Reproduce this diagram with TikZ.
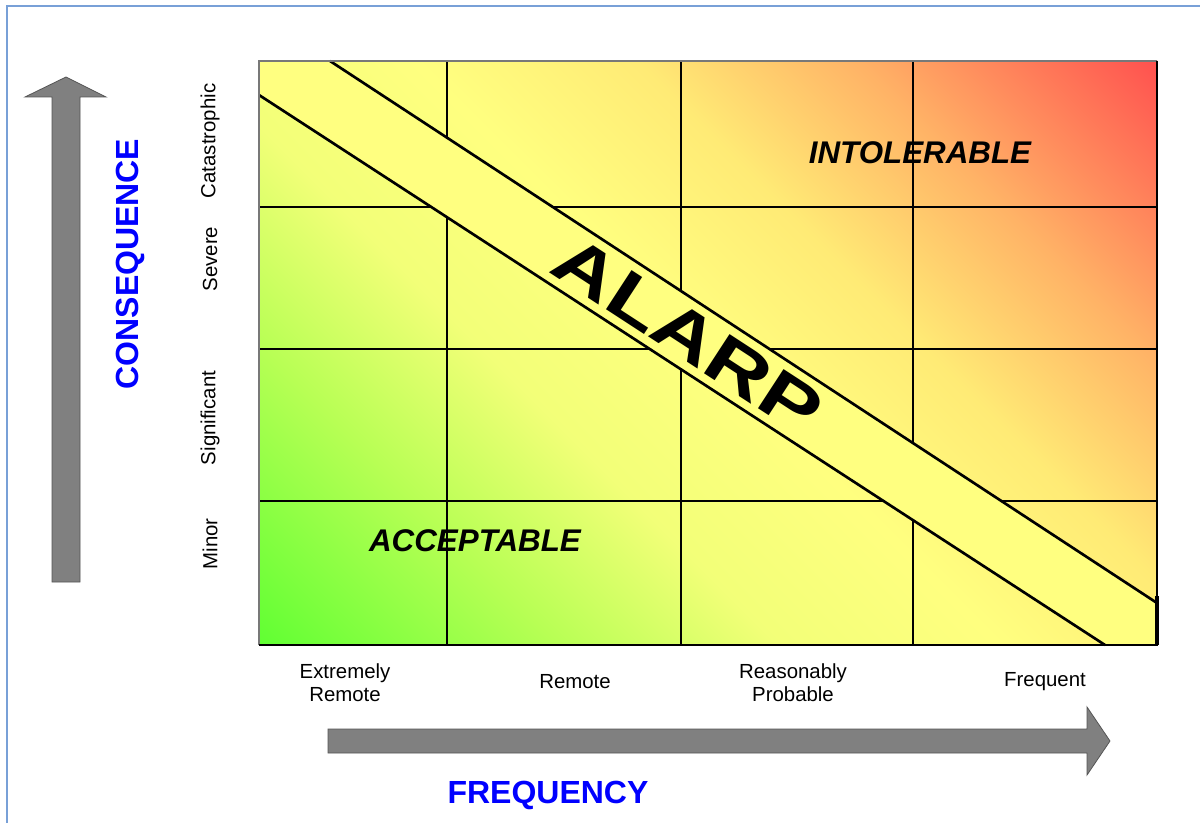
\documentclass[tikz,border=0pt]{standalone}
\usepackage{fontspec}
\setmainfont{Liberation Sans}
\pgfdeclarehorizontalshading{riskshade}{100bp}{%
rgb(0bp)=(0.33,1,0.2);
rgb(14.6bp)=(0.38,1,0.2);
rgb(28.8bp)=(0.72,1,0.33);
rgb(39.4bp)=(0.95,1,0.47);
rgb(50bp)=(1,1,0.5);
rgb(60.6bp)=(1,0.92,0.46);
rgb(71.2bp)=(1,0.7,0.4);
rgb(85.4bp)=(1,0.32,0.31);
rgb(100bp)=(1,0.32,0.31)}
\definecolor{bandyellow}{RGB}{255,255,128}
\definecolor{framelblue}{RGB}{120,160,215}
\definecolor{arrowgray}{RGB}{128,128,128}
\definecolor{arrowedge}{RGB}{85,85,85}
\definecolor{axisblue}{RGB}{0,0,255}
\definecolor{boxedge}{RGB}{120,120,120}
\begin{document}
\begin{tikzpicture}[x=0.75pt,y=-0.75pt,
  gridline/.style={line width=1.8pt, black},
  bandline/.style={line width=2pt, black},
  bigarrow/.style={fill=arrowgray, draw=arrowedge, line width=0.6pt},
  rowlab/.style={rotate=90, font=\fontsize{15.3}{17.5}\selectfont, inner sep=0pt},
  collab/.style={align=center, font=\fontsize{15.3}{17.5}\selectfont, inner sep=0pt},
  axislab/.style={font=\fontsize{24}{28}\selectfont\bfseries, text=axisblue, inner sep=0pt},
  zonelab/.style={font=\fontsize{23.5}{28}\selectfont\bfseries\itshape, inner sep=0pt},
]
\useasboundingbox (0,0) rectangle (1200,823);
\fill[white] (0,0) rectangle (1200,823);
\draw[framelblue, line width=0.8pt] (7,823) -- (7,6) -- (1200,6);

% risk matrix background
\shade[shading=riskshade, shading angle=45] (259,61) rectangle (1157,645);

% grid lines
\draw[gridline] (447,61) -- (447,645);
\draw[gridline] (681,61) -- (681,645);
\draw[gridline] (913,61) -- (913,645);
\draw[gridline] (259,207) -- (1157,207);
\draw[gridline] (259,349) -- (1157,349);
\draw[gridline] (259,501) -- (1157,501);

% ALARP band
\fill[bandyellow] (330,61) -- (1157,603) -- (1157,645) -- (1105,645) -- (259,95) -- (259,61) -- cycle;
\draw[bandline] (330,61) -- (1157,603);
\draw[bandline] (259,95) -- (1105,645);

% outer frame
\draw[boxedge, line width=0.8pt] (259,645) -- (259,61) -- (1157,61);
\draw[black, line width=1.8pt] (1157,61) -- (1157,645) -- (259,645);
\draw[black, line width=2.8pt] (1157,596) -- (1157,645);

% arrows
\draw[bigarrow] (52,582) -- (52,97) -- (25,97) -- (66,77) -- (106,97) -- (80,97) -- (80,582) -- cycle;
\draw[bigarrow] (328,729) -- (1087,729) -- (1087,707) -- (1110,741) -- (1087,775) -- (1087,753) -- (328,753) -- cycle;

% axis titles
\node[axislab, rotate=90] (conseq) at (130,264) {CONSEQUENCE};
\node[axislab] (freq) at (548,795) {FREQUENCY};

% row labels
\node[rowlab] (cat) at (210,141) {Catastrophic};
\node[rowlab] (sev) at (210,259) {Severe};
\node[rowlab] (sig) at (210,418) {Significant};
\node[rowlab] (min) at (210,544) {Minor};

% column labels
\node[collab] (extrem) at (345,683) {Extremely\\Remote};
\node[collab] (remote) at (575,682) {Remote};
\node[collab] (reason) at (793,683) {Reasonably\\Probable};
\node[collab] (frequ) at (1045,682) {Frequent};

% zone labels
\node[zonelab] (intol) at (920,153) {INTOLERABLE};
\node[zonelab] (accept) at (475,541) {ACCEPTABLE};
\node[rotate=-33.1, inner sep=0pt, font=\fontsize{51}{55}\selectfont\bfseries] (alarp) at (688,335) {\scalebox{1.3}[1]{ALARP}};
\end{tikzpicture}
\end{document}
